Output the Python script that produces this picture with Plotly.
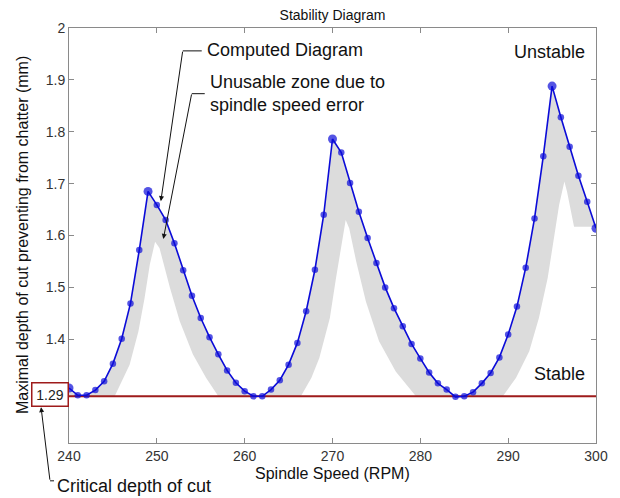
import plotly.graph_objects as go

# ---------------- data ----------------
rpm = list(range(240, 301))
max_depth = [
    1.306, 1.292, 1.292, 1.302, 1.319, 1.353, 1.401, 1.469, 1.572, 1.685,
    1.659, 1.630, 1.585, 1.533, 1.484, 1.441, 1.404, 1.371, 1.340, 1.316,
    1.300, 1.290, 1.290, 1.303, 1.321, 1.351, 1.393, 1.454, 1.534, 1.640,
    1.786, 1.760, 1.701, 1.646, 1.595, 1.547, 1.500, 1.460, 1.425, 1.391,
    1.363, 1.336, 1.315, 1.303, 1.289, 1.290, 1.298, 1.315, 1.335, 1.365,
    1.409, 1.463, 1.538, 1.633, 1.753, 1.888, 1.828, 1.771, 1.715, 1.665,
    1.614,
]
critical_depth = 1.29

# lower boundary of the unusable (grey) zone inside each lobe
usable1_rpm = [245.2, 246.0, 246.9, 247.9, 248.6, 249.2, 249.8, 250.3, 251.5, 252.6, 254.1, 255.6, 257.0]
usable1_depth = [1.29, 1.319, 1.351, 1.415, 1.479, 1.544, 1.588, 1.576, 1.499, 1.435, 1.371, 1.326, 1.29]
usable2_rpm = [266.4, 267.6, 268.5, 269.7, 270.4, 271.0, 271.5, 271.9, 272.7, 273.8, 275.3, 277.2, 279.5]
usable2_depth = [1.29, 1.326, 1.364, 1.441, 1.518, 1.582, 1.630, 1.614, 1.550, 1.473, 1.396, 1.338, 1.29]
usable3_rpm = [289.4, 290.9, 292.4, 293.5, 294.5, 295.2, 295.8, 296.4, 296.7, 297.5, 300.0, 300.0]
usable3_depth = [1.29, 1.326, 1.377, 1.441, 1.518, 1.595, 1.659, 1.704, 1.685, 1.617, 1.617, 1.29]

x_ticks = [240, 250, 260, 270, 280, 290, 300]
y_ticks = [1.4, 1.5, 1.6, 1.7, 1.8, 1.9, 2.0]
y_tick_labels = ["1.4", "1.5", "1.6", "1.7", "1.8", "1.9", "2"]

# ---------------- styling ----------------
FONT = "Liberation Sans, Arial, sans-serif"
BLUE = "#0b0bd8"
GREY = "#dcdcdc"
RED = "#9e1b1b"
PAGE = 8                      # default body margin of the html page
W, H = 620 - PAGE, 498 - PAGE
L, R, T, B = 69 - PAGE, 23, 26 - PAGE, 55
PW, PH = W - L - R, H - T - B


def xp(px):
    """page pixel x -> paper coordinate"""
    return (px - PAGE - L) / PW


def yp(py):
    """page pixel y -> paper coordinate"""
    return (H - B - (py - PAGE)) / PH


fig = go.Figure()

# grey zone: area between baseline and computed curve ...
fig.add_trace(go.Scatter(x=[rpm[0], rpm[-1]], y=[critical_depth, critical_depth],
                         mode="lines", line=dict(width=0), hoverinfo="skip", showlegend=False))
fig.add_trace(go.Scatter(x=rpm, y=max_depth, mode="lines", line=dict(width=0),
                         fill="tonexty", fillcolor=GREY, hoverinfo="skip", showlegend=False))
# ... minus the usable (white) region below the zone
for ux, uy in [(usable1_rpm, usable1_depth), (usable2_rpm, usable2_depth), (usable3_rpm, usable3_depth)]:
    fig.add_trace(go.Scatter(x=ux, y=uy, mode="lines", line=dict(width=0), fill="toself",
                             fillcolor="white", hoverinfo="skip", showlegend=False))

# critical depth line
fig.add_trace(go.Scatter(x=[rpm[0], rpm[-1]], y=[critical_depth, critical_depth], mode="lines",
                         line=dict(color=RED, width=2), showlegend=False))

# computed diagram
sizes = []
for i, v in enumerate(max_depth):
    prev_v = max_depth[i - 1] if i > 0 else None
    next_v = max_depth[i + 1] if i < len(max_depth) - 1 else None
    is_peak = (prev_v is not None and next_v is not None and v > prev_v and v > next_v)
    is_end = prev_v is None or next_v is None
    sizes.append(9 if (is_peak or is_end) else 6.5)
fig.add_trace(go.Scatter(x=rpm, y=max_depth, mode="lines+markers",
                         line=dict(color=BLUE, width=1.6),
                         marker=dict(color=BLUE, size=sizes, line=dict(width=0)),
                         showlegend=False))

annotations = [
    dict(text="Computed Diagram", x=xp(205), y=yp(48), xanchor="left", yanchor="middle",
         font=dict(size=18)),
    dict(text="Unusable zone due to<br>spindle speed error", x=xp(208), y=yp(92), xanchor="left",
         yanchor="middle", align="left", font=dict(size=18)),
    dict(text="Unstable", x=xp(588), y=yp(50), xanchor="right", yanchor="middle", font=dict(size=18)),
    dict(text="Stable", x=xp(588), y=yp(374), xanchor="right", yanchor="middle", font=dict(size=18)),
    dict(text="1.29", x=0, y=yp(394), xanchor="right", yanchor="middle", font=dict(size=14, color="#222"),
         bordercolor=RED, borderwidth=1.5, borderpad=2, width=31, height=18, bgcolor="white"),
    dict(text="Critical depth of cut", x=xp(55), y=yp(486), xanchor="left", yanchor="middle",
         font=dict(size=18)),
    dict(text="Spindle Speed (RPM)", x=0.5, y=yp(474), xanchor="center", yanchor="middle",
         font=dict(size=16)),
    dict(text="Maximal depth of cut preventing from chatter (mm)", x=xp(22), y=yp(234),
         xanchor="center", yanchor="middle", textangle=-90, font=dict(size=16)),
    # arrows
    dict(text="", x=xp(161), y=yp(200), ax=22, ay=-151, showarrow=True, arrowhead=2,
         arrowsize=1, arrowwidth=1, arrowcolor="#111"),
    dict(text="", x=xp(163.5), y=yp(238), ax=28.5, ay=-146, showarrow=True, arrowhead=2,
         arrowsize=1, arrowwidth=1, arrowcolor="#111"),
    dict(text="", x=xp(41), y=yp(407), ax=9, ay=74, showarrow=True, arrowhead=2,
         arrowsize=1, arrowwidth=1, arrowcolor="#111"),
]
for a in annotations:
    a.setdefault("xref", "paper")
    a.setdefault("yref", "paper")
    a.setdefault("showarrow", False)

shapes = [
    dict(type="line", xref="paper", yref="paper", x0=xp(183), x1=xp(202), y0=yp(49), y1=yp(49),
         line=dict(color="#111", width=1)),
    dict(type="line", xref="paper", yref="paper", x0=xp(192), x1=xp(205), y0=yp(92), y1=yp(92),
         line=dict(color="#111", width=1)),
    dict(type="line", xref="paper", yref="paper", x0=xp(50), x1=xp(54), y0=yp(481), y1=yp(481),
         line=dict(color="#111", width=1)),
]

axis_common = dict(showgrid=False, zeroline=False, showline=True, linecolor="#8a8a8a", linewidth=1,
                   mirror="ticks", ticks="inside", ticklen=5, tickcolor="#8a8a8a",
                   tickfont=dict(size=14, color="#333"))

fig.update_layout(
    width=W, height=H,
    margin=dict(l=L, r=R, t=T, b=B),
    paper_bgcolor="white", plot_bgcolor="white",
    font=dict(family=FONT, color="#111"),
    title=dict(text="Stability Diagram", x=0.5, xref="paper", xanchor="center",
               y=1, yref="container", yanchor="top", pad=dict(t=2),
               font=dict(size=14)),
    xaxis=dict(range=[240, 300], tickvals=x_ticks, **axis_common),
    yaxis=dict(range=[1.2, 2.0], tickvals=y_ticks, ticktext=y_tick_labels, **axis_common),
    annotations=annotations,
    shapes=shapes,
)

fig.write_html("out.html")
